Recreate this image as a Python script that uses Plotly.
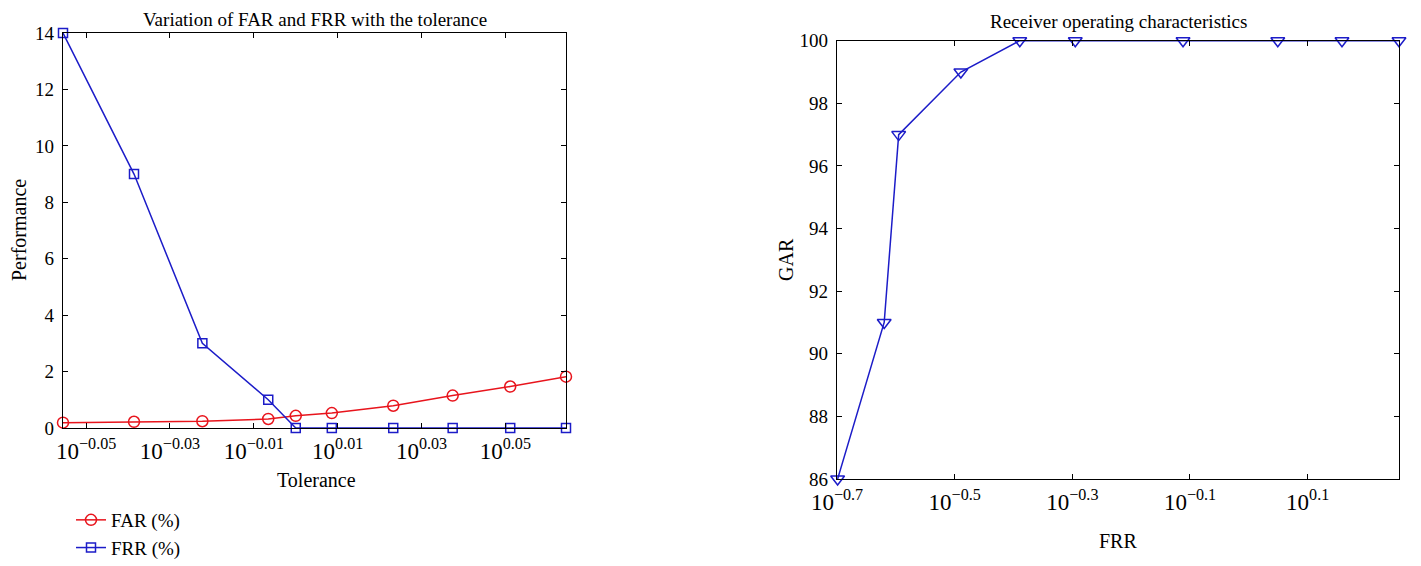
import numpy as np
import plotly.graph_objects as go

# left panel: FAR / FRR against tolerance
tolerance = [0.88, 0.915, 0.95, 0.985, 1.0, 1.02, 1.055, 1.09, 1.125, 1.16]
far = [0.19, 0.22, 0.24, 0.32, 0.43, 0.53, 0.79, 1.15, 1.47, 1.82]
frr = [14, 9, 3, 1, 0, 0, 0, 0, 0, 0]

# right panel: ROC
roc_frr = [0.2, 0.24, 0.254, 0.324, 0.408, 0.507, 0.773, 1.12, 1.44, 1.8]
roc_gar = [86, 91, 97, 99, 100, 100, 100, 100, 100, 100]

left_ticks = [-0.05, -0.03, -0.01, 0.01, 0.03, 0.05]
right_ticks = [-0.7, -0.5, -0.3, -0.1, 0.1]


def exp_label(e):
    s = f"{e:g}".replace("-", "\u2212")
    return f"10<sup>{s}</sup>"


W, H = 1421, 566
OFF = 8  # page body margin
FONT = "Liberation Serif"
RED = "#e8141c"
BLUE = "#1c1cc8"


def px_x(x):
    return (x - OFF) / W


def px_y(y):
    return 1 - (y - OFF) / H


fig = go.Figure()

fig.add_trace(go.Scatter(
    x=tolerance, y=far, name="FAR (%)", mode="lines+markers",
    line=dict(color=RED, width=1.5),
    marker=dict(symbol="circle-open", size=11, color=RED, line=dict(width=1.5)),
    cliponaxis=False, xaxis="x", yaxis="y"
))
fig.add_trace(go.Scatter(
    x=tolerance, y=frr, name="FRR (%)", mode="lines+markers",
    line=dict(color=BLUE, width=1.5),
    marker=dict(symbol="square-open", size=9, color=BLUE, line=dict(width=1.5)),
    cliponaxis=False, xaxis="x", yaxis="y"
))
fig.add_trace(go.Scatter(
    x=roc_frr, y=roc_gar, name="ROC", mode="lines+markers", showlegend=False,
    line=dict(color=BLUE, width=1.5),
    marker=dict(symbol="triangle-down-open", size=12, color=BLUE, line=dict(width=1.5)),
    cliponaxis=False, xaxis="x2", yaxis="y2"
))

axis_common = dict(
    showline=True, linecolor="black", linewidth=1.3, mirror="ticks",
    ticks="inside", ticklen=5, tickwidth=1, tickcolor="black",
    showgrid=False, zeroline=False, automargin=False,
)
xfont = dict(family=FONT, size=23, color="black")
yfont = dict(family=FONT, size=19, color="black")

fig.update_layout(
    width=W, height=H,
    margin=dict(l=0, r=0, t=0, b=0, autoexpand=False),
    paper_bgcolor="white", plot_bgcolor="white",
    font=dict(family=FONT, color="black"),
    xaxis=dict(
        type="log", domain=[px_x(63), px_x(566)],
        range=[np.log10(tolerance[0]), np.log10(tolerance[-1])],
        tickvals=[10 ** e for e in left_ticks],
        ticktext=[exp_label(e) for e in left_ticks],
        tickfont=xfont, ticklabelstandoff=2, anchor="y", **axis_common
    ),
    yaxis=dict(
        domain=[px_y(428), px_y(33)], range=[0, 14], dtick=2,
        tickfont=yfont, ticklabelstandoff=4, anchor="x", **axis_common
    ),
    xaxis2=dict(
        type="log", domain=[px_x(837), px_x(1399)],
        range=[-0.7, np.log10(roc_frr[-1])],
        tickvals=[10 ** e for e in right_ticks],
        ticktext=[exp_label(e) for e in right_ticks],
        tickfont=xfont, ticklabelstandoff=2, anchor="y2", **axis_common
    ),
    yaxis2=dict(
        domain=[px_y(479), px_y(40.7)], range=[86, 100], dtick=2,
        tickfont=yfont, ticklabelstandoff=4, anchor="x2", **axis_common
    ),
    legend=dict(
        x=px_x(71), y=px_y(501), xanchor="left", yanchor="top",
        font=dict(family=FONT, size=19, color="black"),
        bgcolor="rgba(0,0,0,0)", tracegroupgap=0,
    ),
)

texts = [
    ("Variation of FAR and FRR with the tolerance", 315, 19, 19, 0),
    ("Receiver operating characteristics", 1118, 21, 19, 0),
    ("Tolerance", 316, 480, 20, 0),
    ("FRR", 1118, 541, 20, 0),
    ("Performance", 19, 230, 20, -90),
    ("GAR", 786, 260, 20, -90),
]
for txt, x, y, size, ang in texts:
    fig.add_annotation(
        text=txt, x=px_x(x), y=px_y(y), xref="paper", yref="paper",
        xanchor="center", yanchor="middle", showarrow=False, textangle=ang,
        font=dict(family=FONT, size=size, color="black"),
    )

fig.write_html("out.html")
